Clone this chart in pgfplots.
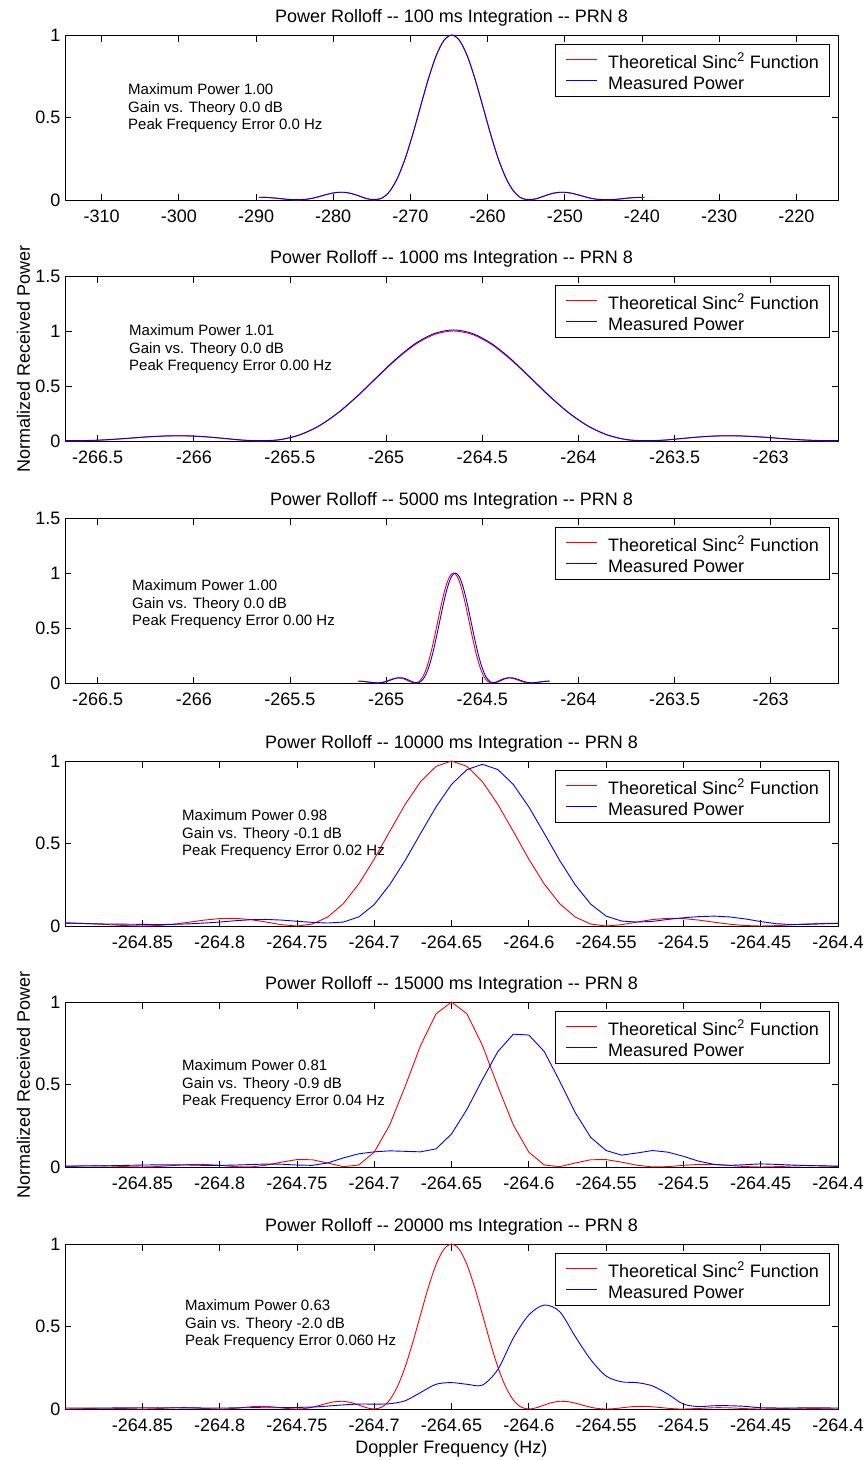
\documentclass[border=0pt]{standalone}
\usepackage{fontspec}
\setmainfont{Liberation Sans}
\usepackage{pgfplots}
\pgfplotsset{compat=1.18}
\definecolor{mred}{rgb}{1,0,0}
\definecolor{mblue}{rgb}{0,0,1}
\newcommand\bigfs{\fontsize{18}{21.6}\selectfont}
\newcommand\smallfs{\fontsize{15}{18}\selectfont}
\tikzset{info/.style={anchor=base west, inner sep=0pt, font=\smallfs},
  legtext/.style={anchor=base west, inner sep=0pt, font=\bigfs}}
\pgfplotsset{
  panel/.style={
    scale only axis, width=773pt, height=165pt, anchor=south west, clip=false,
    ymin=0,
    tick align=inside, major tick length=6.5pt,
    axis line style={line width=0.8pt},
    every tick/.style={line width=0.8pt, black},
    tick label style={font=\bigfs},
    yticklabel style={anchor=east, inner sep=0pt, xshift=-4.5pt},
    xticklabel style={anchor=base, inner sep=0pt, yshift=-22.5pt},
    title style={font=\bigfs, at={(0.5,1)}, anchor=base, inner sep=0pt, yshift=7pt},
    ylabel style={font=\bigfs, at={(axis description cs:-0.0453,0.5)}, anchor=base, inner sep=0pt},
    xlabel style={font=\bigfs, at={(axis description cs:0.5,0)}, anchor=base, inner sep=0pt, yshift=-44pt},
  },
  tp/.style={color=mred, line width=0.9pt},
  mp/.style={color=mblue, line width=0.9pt},
}
\newcommand\info[5]{%
  \node[info] at (axis description cs:#1,#2) {#3};
  \node[info, yshift=-17.7pt] at (axis description cs:#1,#2) {#4};
  \node[info, yshift=-35.4pt] at (axis description cs:#1,#2) {#5};}
\newcommand\mylegend{%
  \coordinate (TR) at (axis description cs:1,1);
  \draw[black, line width=0.8pt, fill=white] ([xshift=-9pt,yshift=-9pt]TR) rectangle ([xshift=-283pt,yshift=-61pt]TR);
  \draw[mred, line width=0.9pt] ([xshift=-272pt,yshift=-24pt]TR) -- ([xshift=-241pt,yshift=-24pt]TR);
  \draw[mblue, line width=0.9pt] ([xshift=-272pt,yshift=-45pt]TR) -- ([xshift=-241pt,yshift=-45pt]TR);
  \node[legtext] at ([xshift=-230pt,yshift=-33.2pt]TR) {Theoretical Sinc\textsuperscript{2} Function};
  \node[legtext] at ([xshift=-230pt,yshift=-54.2pt]TR) {Measured Power};}
\begin{document}
\begin{tikzpicture}
\path[use as bounding box] (0pt,0pt) rectangle (864pt,-1460pt);
% ---------------- Panel 1: 100 ms
\begin{axis}[panel, at={(65pt,-200pt)}, xmin=-314.75, xmax=-214.6, ymax=1,
  xtick={-310,-300,-290,-280,-270,-260,-250,-240,-230,-220},
  xticklabels={-310,-300,-290,-280,-270,-260,-250,-240,-230,-220},
  ytick={0,0.5,1}, yticklabels={0,0.5,1},
  title={Power Rolloff -{}- 100 ms Integration -{}- PRN 8}]
\addplot[tp, smooth, tension=0.5] coordinates {(-289.65,0.0162) (-288.65,0.0159) (-287.65,0.0125) (-286.65,0.0072) (-285.65,0.0022) (-284.65,0) (-283.65,0.0027) (-282.65,0.0108) (-281.65,0.0229) (-280.65,0.0358) (-279.65,0.0450) (-278.65,0.0468) (-277.65,0.0392) (-276.65,0.0243) (-275.65,0.0080) (-274.65,0) (-273.65,0.0120) (-272.65,0.0547) (-271.65,0.1353) (-270.65,0.2546) (-269.65,0.4053) (-268.65,0.5728) (-267.65,0.7368) (-266.65,0.8751) (-265.65,0.9675) (-264.65,1) (-263.65,0.9675) (-262.65,0.8751) (-261.65,0.7368) (-260.65,0.5728) (-259.65,0.4053) (-258.65,0.2546) (-257.65,0.1353) (-256.65,0.0547) (-255.65,0.0120) (-254.65,0) (-253.65,0.0080) (-252.65,0.0243) (-251.65,0.0392) (-250.65,0.0468) (-249.65,0.0450) (-248.65,0.0358) (-247.65,0.0229) (-246.65,0.0108) (-245.65,0.0027) (-244.65,0) (-243.65,0.0022) (-242.65,0.0072) (-241.65,0.0125) (-240.65,0.0159) (-239.65,0.0162)};
\addplot[mp, smooth, tension=0.5] coordinates {(-289.5,0.0170) (-288.65,0.0155) (-287.65,0.0120) (-286.65,0.0075) (-285.65,0.0035) (-284.65,0.0030) (-283.65,0.0040) (-282.65,0.0110) (-281.65,0.0230) (-280.65,0.0360) (-279.65,0.0455) (-278.65,0.0470) (-277.65,0.0395) (-276.65,0.0245) (-275.65,0.0085) (-274.65,0.0030) (-273.65,0.0125) (-272.65,0.0550) (-271.65,0.1360) (-270.65,0.2550) (-269.65,0.4060) (-268.65,0.5735) (-267.65,0.7375) (-266.65,0.8760) (-265.65,0.9680) (-264.65,1.0) (-263.65,0.9680) (-262.65,0.8760) (-261.65,0.7375) (-260.65,0.5735) (-259.65,0.4060) (-258.65,0.2550) (-257.65,0.1360) (-256.65,0.0550) (-255.65,0.0125) (-254.65,0.0030) (-253.65,0.0085) (-252.65,0.0245) (-251.65,0.0395) (-250.65,0.0470) (-249.65,0.0455) (-248.65,0.0360) (-247.65,0.0230) (-246.65,0.0110) (-245.65,0.0040) (-244.65,0.0030) (-243.65,0.0035) (-242.65,0.0075) (-241.65,0.0120) (-240.65,0.0150) (-240.0,0.0155)};
\info{0.0815}{0.640}{Maximum Power 1.00}{Gain vs. Theory 0.0 dB}{Peak Frequency Error 0.0 Hz}
\mylegend
\end{axis}
% ---------------- Panel 2: 1000 ms
\begin{axis}[panel, at={(65pt,-441pt)}, xmin=-266.67, xmax=-262.65, ymax=1.5,
  xtick={-266.5,-266,-265.5,-265,-264.5,-264,-263.5,-263},
  xticklabels={-266.5,-266,-265.5,-265,-264.5,-264,-263.5,-263},
  ytick={0,0.5,1,1.5}, yticklabels={0,0.5,1,1.5},
  ylabel={Normalized Received Power},
  title={Power Rolloff -{}- 1000 ms Integration -{}- PRN 8}]
\addplot[tp, smooth, tension=0.5] coordinates {(-266.67,0) (-266.65,0) (-266.55,0.0027) (-266.45,0.0108) (-266.35,0.0229) (-266.25,0.0358) (-266.15,0.0450) (-266.05,0.0468) (-265.95,0.0392) (-265.85,0.0243) (-265.75,0.0080) (-265.65,0) (-265.55,0.0120) (-265.45,0.0547) (-265.35,0.1353) (-265.25,0.2546) (-265.15,0.4053) (-265.05,0.5728) (-264.95,0.7368) (-264.85,0.8751) (-264.75,0.9675) (-264.65,1) (-264.55,0.9675) (-264.45,0.8751) (-264.35,0.7368) (-264.25,0.5728) (-264.15,0.4053) (-264.05,0.2546) (-263.95,0.1353) (-263.85,0.0547) (-263.75,0.0120) (-263.65,0) (-263.55,0.0080) (-263.45,0.0243) (-263.35,0.0392) (-263.25,0.0468) (-263.15,0.0450) (-263.05,0.0358) (-262.95,0.0229) (-262.85,0.0108) (-262.75,0.0027) (-262.65,0)};
\addplot[mp, smooth, tension=0.5] coordinates {(-266.67,0.003) (-266.65,0.003) (-266.55,0.005) (-266.45,0.012) (-266.35,0.024) (-266.25,0.037) (-266.15,0.046) (-266.05,0.048) (-265.95,0.040) (-265.85,0.025) (-265.75,0.009) (-265.65,0.003) (-265.55,0.013) (-265.45,0.056) (-265.35,0.137) (-265.25,0.257) (-265.15,0.409) (-265.05,0.578) (-264.95,0.744) (-264.85,0.884) (-264.75,0.977) (-264.65,1.01) (-264.55,0.977) (-264.45,0.884) (-264.35,0.744) (-264.25,0.578) (-264.15,0.409) (-264.05,0.257) (-263.95,0.137) (-263.85,0.056) (-263.75,0.013) (-263.65,0.003) (-263.55,0.009) (-263.45,0.025) (-263.35,0.040) (-263.25,0.048) (-263.15,0.046) (-263.05,0.037) (-262.95,0.024) (-262.85,0.012) (-262.75,0.005) (-262.65,0.003)};
\info{0.0828}{0.640}{Maximum Power 1.01}{Gain vs. Theory 0.0 dB}{Peak Frequency Error 0.00 Hz}
\mylegend
\end{axis}
% ---------------- Panel 3: 5000 ms
\begin{axis}[panel, at={(65pt,-683pt)}, xmin=-266.67, xmax=-262.65, ymax=1.5,
  xtick={-266.5,-266,-265.5,-265,-264.5,-264,-263.5,-263},
  xticklabels={-266.5,-266,-265.5,-265,-264.5,-264,-263.5,-263},
  ytick={0,0.5,1,1.5}, yticklabels={0,0.5,1,1.5},
  title={Power Rolloff -{}- 5000 ms Integration -{}- PRN 8}]
\addplot[tp, smooth, tension=0.5] coordinates {(-265.15,0.0162) (-265.13,0.0159) (-265.11,0.0125) (-265.09,0.0072) (-265.07,0.0022) (-265.05,0) (-265.03,0.0027) (-265.01,0.0108) (-264.99,0.0229) (-264.97,0.0358) (-264.95,0.0450) (-264.93,0.0468) (-264.91,0.0392) (-264.89,0.0243) (-264.87,0.0080) (-264.85,0) (-264.83,0.0120) (-264.81,0.0547) (-264.79,0.1353) (-264.77,0.2546) (-264.75,0.4053) (-264.73,0.5728) (-264.71,0.7368) (-264.69,0.8751) (-264.67,0.9675) (-264.65,1) (-264.63,0.9675) (-264.61,0.8751) (-264.59,0.7368) (-264.57,0.5728) (-264.55,0.4053) (-264.53,0.2546) (-264.51,0.1353) (-264.49,0.0547) (-264.47,0.0120) (-264.45,0) (-264.43,0.0080) (-264.41,0.0243) (-264.39,0.0392) (-264.37,0.0468) (-264.35,0.0450) (-264.33,0.0358) (-264.31,0.0229) (-264.29,0.0108) (-264.27,0.0027) (-264.25,0) (-264.23,0.0022) (-264.21,0.0072) (-264.19,0.0125) (-264.17,0.0159) (-264.15,0.0162)};
\addplot[mp, smooth, tension=0.5] coordinates {(-265.14,0.017) (-265.12,0.015) (-265.10,0.011) (-265.08,0.007) (-265.06,0.003) (-265.04,0.002) (-265.02,0.004) (-265.00,0.012) (-264.98,0.024) (-264.96,0.037) (-264.94,0.046) (-264.92,0.048) (-264.90,0.040) (-264.88,0.025) (-264.86,0.009) (-264.84,0.002) (-264.82,0.013) (-264.80,0.055) (-264.78,0.135) (-264.76,0.254) (-264.74,0.405) (-264.72,0.572) (-264.70,0.737) (-264.68,0.875) (-264.66,0.968) (-264.64,1.0) (-264.62,0.968) (-264.60,0.875) (-264.58,0.737) (-264.56,0.572) (-264.54,0.405) (-264.52,0.254) (-264.50,0.135) (-264.48,0.055) (-264.46,0.013) (-264.44,0.002) (-264.42,0.009) (-264.40,0.025) (-264.38,0.040) (-264.36,0.048) (-264.34,0.046) (-264.32,0.037) (-264.30,0.024) (-264.28,0.012) (-264.26,0.004) (-264.24,0.002) (-264.22,0.004) (-264.20,0.009) (-264.18,0.014) (-264.16,0.017) (-264.15,0.018)};
\info{0.0867}{0.561}{Maximum Power 1.00}{Gain vs. Theory 0.0 dB}{Peak Frequency Error 0.00 Hz}
\mylegend
\end{axis}
% ---------------- Panel 4: 10000 ms
\begin{axis}[panel, at={(65pt,-926pt)}, xmin=-264.9, xmax=-264.4, ymax=1,
  xtick={-264.85,-264.8,-264.75,-264.7,-264.65,-264.6,-264.55,-264.5,-264.45,-264.4},
  xticklabels={-264.85,-264.8,-264.75,-264.7,-264.65,-264.6,-264.55,-264.5,-264.45,-264.4},
  ytick={0,0.5,1}, yticklabels={0,0.5,1},
  title={Power Rolloff -{}- 10000 ms Integration -{}- PRN 8}]
\addplot[tp] coordinates {(-264.90,0.0162) (-264.89,0.0159) (-264.88,0.0125) (-264.87,0.0072) (-264.86,0.0022) (-264.85,0) (-264.84,0.0027) (-264.83,0.0108) (-264.82,0.0229) (-264.81,0.0358) (-264.80,0.0450) (-264.79,0.0468) (-264.78,0.0392) (-264.77,0.0243) (-264.76,0.0080) (-264.75,0) (-264.74,0.0120) (-264.73,0.0547) (-264.72,0.1353) (-264.71,0.2546) (-264.70,0.4053) (-264.69,0.5728) (-264.68,0.7368) (-264.67,0.8751) (-264.66,0.9675) (-264.65,1) (-264.64,0.9675) (-264.63,0.8751) (-264.62,0.7368) (-264.61,0.5728) (-264.60,0.4053) (-264.59,0.2546) (-264.58,0.1353) (-264.57,0.0547) (-264.56,0.0120) (-264.55,0) (-264.54,0.0080) (-264.53,0.0243) (-264.52,0.0392) (-264.51,0.0468) (-264.50,0.0450) (-264.49,0.0358) (-264.48,0.0229) (-264.47,0.0108) (-264.46,0.0027) (-264.45,0) (-264.44,0.0022) (-264.43,0.0072) (-264.42,0.0125) (-264.41,0.0159) (-264.40,0.0162)};
\addplot[mp] coordinates {(-264.90,0.020) (-264.89,0.016) (-264.88,0.013) (-264.87,0.012) (-264.86,0.011) (-264.85,0.010) (-264.84,0.009) (-264.83,0.010) (-264.82,0.013) (-264.81,0.018) (-264.80,0.024) (-264.79,0.032) (-264.78,0.038) (-264.77,0.040) (-264.76,0.036) (-264.75,0.029) (-264.74,0.022) (-264.73,0.018) (-264.72,0.024) (-264.71,0.055) (-264.70,0.130) (-264.69,0.250) (-264.68,0.397) (-264.67,0.561) (-264.66,0.722) (-264.65,0.858) (-264.64,0.948) (-264.63,0.980) (-264.62,0.948) (-264.61,0.858) (-264.60,0.722) (-264.59,0.561) (-264.58,0.397) (-264.57,0.250) (-264.56,0.133) (-264.55,0.060) (-264.54,0.030) (-264.53,0.024) (-264.52,0.028) (-264.51,0.040) (-264.50,0.050) (-264.49,0.057) (-264.48,0.060) (-264.47,0.055) (-264.46,0.043) (-264.45,0.027) (-264.44,0.014) (-264.43,0.009) (-264.42,0.010) (-264.41,0.013) (-264.40,0.016)};
\info{0.1514}{0.640}{Maximum Power 0.98}{Gain vs. Theory -0.1 dB}{Peak Frequency Error 0.02 Hz}
\mylegend
\end{axis}
% ---------------- Panel 5: 15000 ms
\begin{axis}[panel, at={(65pt,-1167pt)}, xmin=-264.9, xmax=-264.4, ymax=1,
  xtick={-264.85,-264.8,-264.75,-264.7,-264.65,-264.6,-264.55,-264.5,-264.45,-264.4},
  xticklabels={-264.85,-264.8,-264.75,-264.7,-264.65,-264.6,-264.55,-264.5,-264.45,-264.4},
  ytick={0,0.5,1}, yticklabels={0,0.5,1},
  ylabel={Normalized Received Power},
  title={Power Rolloff -{}- 15000 ms Integration -{}- PRN 8}]
\addplot[tp] coordinates {(-264.90,0.0036) (-264.89,0.0071) (-264.88,0.0083) (-264.87,0.0061) (-264.86,0.0021) (-264.85,0) (-264.84,0.0026) (-264.83,0.0091) (-264.82,0.0152) (-264.81,0.0159) (-264.80,0.0100) (-264.79,0.0022) (-264.78,0.0007) (-264.77,0.0108) (-264.76,0.0295) (-264.75,0.0450) (-264.74,0.0441) (-264.73,0.0243) (-264.72,0.0023) (-264.71,0.0120) (-264.70,0.0901) (-264.69,0.2546) (-264.68,0.4881) (-264.67,0.7368) (-264.66,0.9282) (-264.65,1) (-264.64,0.9282) (-264.63,0.7368) (-264.62,0.4881) (-264.61,0.2546) (-264.60,0.0901) (-264.59,0.0120) (-264.58,0.0023) (-264.57,0.0243) (-264.56,0.0441) (-264.55,0.0450) (-264.54,0.0295) (-264.53,0.0108) (-264.52,0.0007) (-264.51,0.0022) (-264.50,0.0100) (-264.49,0.0159) (-264.48,0.0152) (-264.47,0.0091) (-264.46,0.0026) (-264.45,0) (-264.44,0.0021) (-264.43,0.0061) (-264.42,0.0083) (-264.41,0.0071) (-264.40,0.0036)};
\addplot[mp] coordinates {(-264.90,0.005) (-264.89,0.006) (-264.88,0.006) (-264.87,0.008) (-264.86,0.010) (-264.85,0.012) (-264.84,0.013) (-264.83,0.013) (-264.82,0.012) (-264.81,0.010) (-264.80,0.010) (-264.79,0.012) (-264.78,0.015) (-264.77,0.018) (-264.76,0.017) (-264.75,0.012) (-264.74,0.010) (-264.73,0.025) (-264.72,0.055) (-264.71,0.080) (-264.70,0.092) (-264.69,0.098) (-264.68,0.095) (-264.67,0.092) (-264.66,0.110) (-264.65,0.200) (-264.64,0.350) (-264.63,0.530) (-264.62,0.700) (-264.61,0.805) (-264.60,0.800) (-264.59,0.700) (-264.58,0.520) (-264.57,0.330) (-264.56,0.180) (-264.55,0.100) (-264.54,0.072) (-264.53,0.085) (-264.52,0.100) (-264.51,0.090) (-264.50,0.065) (-264.49,0.035) (-264.48,0.016) (-264.47,0.010) (-264.46,0.014) (-264.45,0.019) (-264.44,0.016) (-264.43,0.012) (-264.42,0.009) (-264.41,0.007) (-264.40,0.005)};
\info{0.1514}{0.585}{Maximum Power 0.81}{Gain vs. Theory -0.9 dB}{Peak Frequency Error 0.04 Hz}
\mylegend
\end{axis}
% ---------------- Panel 6: 20000 ms
\begin{axis}[panel, at={(65pt,-1409pt)}, xmin=-264.9, xmax=-264.4, ymax=1,
  xtick={-264.85,-264.8,-264.75,-264.7,-264.65,-264.6,-264.55,-264.5,-264.45,-264.4},
  xticklabels={-264.85,-264.8,-264.75,-264.7,-264.65,-264.6,-264.55,-264.5,-264.45,-264.4},
  ytick={0,0.5,1}, yticklabels={0,0.5,1},
  xlabel={Doppler Frequency (Hz)},
  title={Power Rolloff -{}- 20000 ms Integration -{}- PRN 8}]
\addplot[tp, smooth, tension=0.5] coordinates {(-264.90,0) (-264.89,0.0015) (-264.88,0.0043) (-264.87,0.0047) (-264.86,0.0020) (-264.85,0) (-264.84,0.0024) (-264.83,0.0071) (-264.82,0.0079) (-264.81,0.0034) (-264.80,0) (-264.795,0.0011) (-264.79,0.0045) (-264.785,0.0091) (-264.78,0.0136) (-264.775,0.0162) (-264.77,0.0159) (-264.765,0.0125) (-264.76,0.0072) (-264.755,0.0022) (-264.75,0) (-264.745,0.0027) (-264.74,0.0108) (-264.735,0.0229) (-264.73,0.0358) (-264.725,0.0450) (-264.72,0.0468) (-264.715,0.0392) (-264.71,0.0243) (-264.705,0.0080) (-264.70,0) (-264.695,0.0120) (-264.69,0.0547) (-264.685,0.1353) (-264.68,0.2546) (-264.675,0.4053) (-264.67,0.5728) (-264.665,0.7368) (-264.66,0.8751) (-264.655,0.9675) (-264.65,1) (-264.645,0.9675) (-264.64,0.8751) (-264.635,0.7368) (-264.63,0.5728) (-264.625,0.4053) (-264.62,0.2546) (-264.615,0.1353) (-264.61,0.0547) (-264.605,0.0120) (-264.60,0) (-264.595,0.0080) (-264.59,0.0243) (-264.585,0.0392) (-264.58,0.0468) (-264.575,0.0450) (-264.57,0.0358) (-264.565,0.0229) (-264.56,0.0108) (-264.555,0.0027) (-264.55,0) (-264.545,0.0022) (-264.54,0.0072) (-264.535,0.0125) (-264.53,0.0159) (-264.525,0.0162) (-264.52,0.0136) (-264.515,0.0091) (-264.51,0.0045) (-264.505,0.0011) (-264.50,0) (-264.49,0.0034) (-264.48,0.0079) (-264.47,0.0071) (-264.46,0.0024) (-264.45,0) (-264.44,0.0020) (-264.43,0.0047) (-264.42,0.0043) (-264.41,0.0015) (-264.40,0)};
\addplot[mp, smooth, tension=0.5] coordinates {(-264.90,0.006) (-264.88,0.006) (-264.86,0.007) (-264.84,0.008) (-264.82,0.007) (-264.80,0.006) (-264.78,0.008) (-264.76,0.008) (-264.74,0.012) (-264.73,0.018) (-264.72,0.025) (-264.71,0.030) (-264.70,0.030) (-264.69,0.032) (-264.68,0.050) (-264.67,0.100) (-264.66,0.150) (-264.65,0.160) (-264.64,0.150) (-264.63,0.145) (-264.62,0.240) (-264.61,0.430) (-264.60,0.570) (-264.59,0.630) (-264.58,0.590) (-264.57,0.440) (-264.56,0.300) (-264.55,0.200) (-264.54,0.165) (-264.53,0.160) (-264.52,0.140) (-264.51,0.090) (-264.50,0.030) (-264.49,0.015) (-264.48,0.020) (-264.47,0.020) (-264.46,0.016) (-264.45,0.008) (-264.43,0.006) (-264.42,0.008) (-264.41,0.007) (-264.40,0.006)};
\info{0.1552}{0.598}{Maximum Power 0.63}{Gain vs. Theory -2.0 dB}{Peak Frequency Error 0.060 Hz}
\mylegend
\end{axis}
\end{tikzpicture}
\end{document}
